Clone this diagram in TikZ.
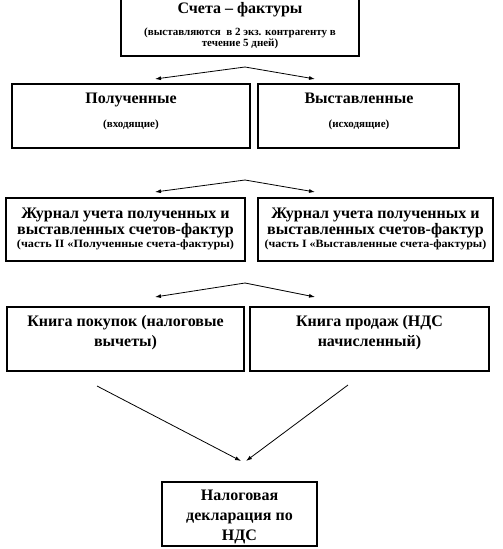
\documentclass[tikz,border=0pt]{standalone}
\usepackage{fontspec}
\usepackage{graphicx}
\setmainfont{Liberation Serif}
\usetikzlibrary{arrows.meta}
\begin{document}
\begin{tikzpicture}[x=1pt,y=-1pt,
  box/.style={draw=black,line width=1.1pt},
  big/.style={inner sep=0pt,anchor=base,font=\fontsize{16}{17}\selectfont\bfseries},
  small/.style={inner sep=0pt,anchor=base,font=\fontsize{11}{12}\selectfont\bfseries},
  mid/.style={inner sep=0pt,anchor=base,font=\fontsize{11.2}{12}\selectfont\bfseries},
  arr/.style={line width=0.8pt,-{Latex[length=6pt,width=4pt]}}]
\useasboundingbox (0,0) rectangle (503,549);
\begin{scope}
\clip (0,0) rectangle (503,549);
% top box
\draw[box] (121,-5) rectangle (359,56);
\node[big] (t0) at (240,13) {Счета – фактуры};
\node[small] (t0a) at (240,35) {(выставляются\ \ в 2 экз. контрагенту в};
\node[small] (t0b) at (240,46.5) {течение 5 дней)};
% arrows 1
\coordinate (p1) at (245,67);
\coordinate (l1) at (155,79);
\coordinate (r1) at (315,79);
\draw[arr] (p1) -- (l1);
\draw[arr] (p1) -- (r1);
% row 2
\draw[box] (12,84) rectangle (250,148);
\draw[box] (258,84) rectangle (459,148);
\node[big] (t1) at (131,103) {Полученные};
\node[small] (t1a) at (131,127) {(входящие)};
\node[big] (t2) at (359,103) {Выставленные};
\node[small] (t2a) at (359,127) {(исходящие)};
% arrows 2
\coordinate (p2) at (245,180);
\coordinate (l2) at (155,192);
\coordinate (r2) at (315,192);
\draw[arr] (p2) -- (l2);
\draw[arr] (p2) -- (r2);
% row 3
\draw[box] (6,198) rectangle (245,261);
\draw[box] (258,198) rectangle (493,261);
\node[big] (j1a) at (125.5,218) {Журнал учета полученных и};
\node[big] (j1b) at (125.5,234) {выставленных счетов-фактур};
\node[mid] (j1c) at (125.5,247.5) {\scalebox{1.09}[1]{(часть II «Полученные счета-фактуры)}};
\node[big] (j2a) at (375.5,218) {Журнал учета полученных и};
\node[big] (j2b) at (375.5,234) {выставленных счетов-фактур};
\node[mid] (j2c) at (375.5,247.5) {\scalebox{1.07}[1]{(часть I «Выставленные счета-фактуры)}};
% arrows 3
\coordinate (p3) at (245,283);
\coordinate (l3) at (155,297);
\coordinate (r3) at (315,297);
\draw[arr] (p3) -- (l3);
\draw[arr] (p3) -- (r3);
% row 4
\draw[box] (7,307) rectangle (244,371);
\draw[box] (250,307) rectangle (489,371);
\node[big] (k1a) at (125.5,326) {Книга покупок (налоговые};
\node[big] (k1b) at (125.5,346) {вычеты)};
\node[big] (k2a) at (369.5,326) {Книга продаж (НДС};
\node[big] (k2b) at (369.5,346) {начисленный)};
% arrows 4
\coordinate (s1) at (97,386);
\coordinate (s2) at (348,385);
\coordinate (e1) at (241,461);
\coordinate (e2) at (246,461);
\draw[arr] (s1) -- (e1);
\draw[arr] (s2) -- (e2);
% bottom box
\draw[box] (162,482) rectangle (317,546);
\node[big] (n1) at (239.5,500.5) {Налоговая};
\node[big] (n2) at (239.5,520) {декларация по};
\node[big] (n3) at (239.5,540) {НДС};
\end{scope}
\end{tikzpicture}
\end{document}
